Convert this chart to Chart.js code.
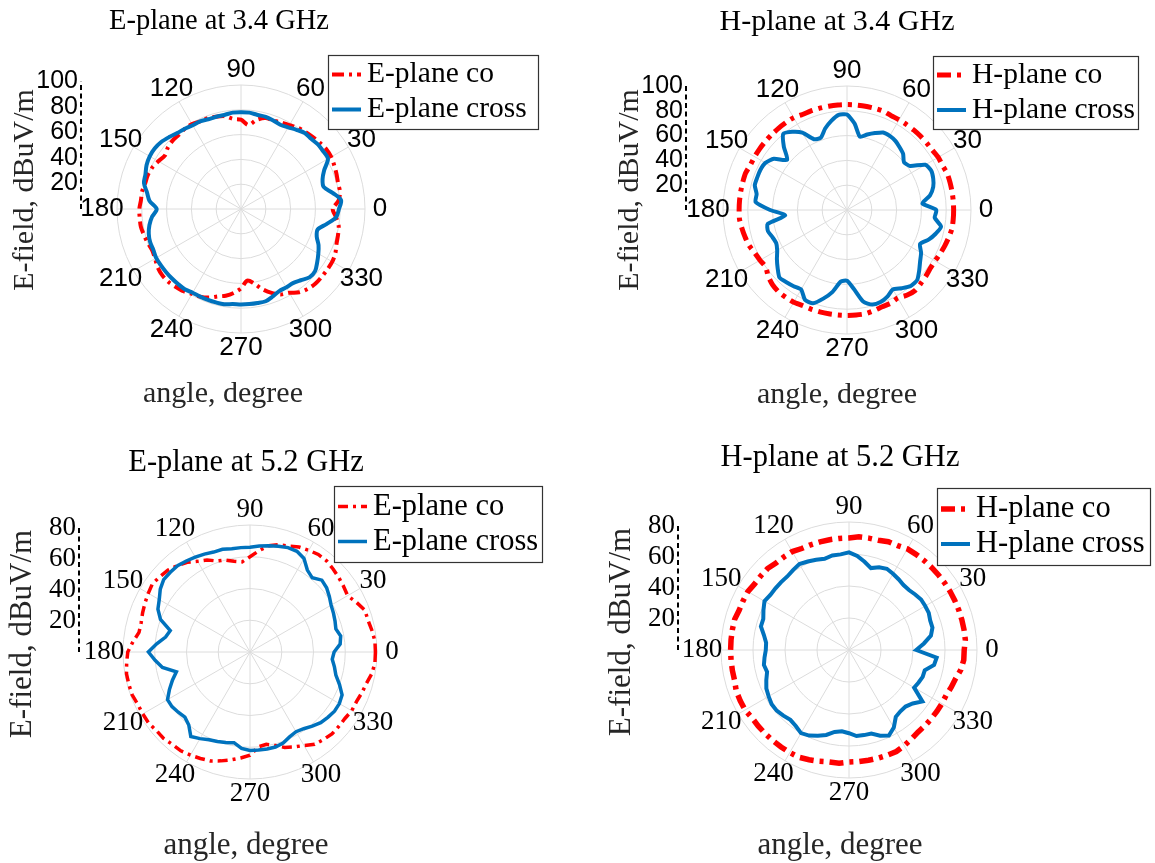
<!DOCTYPE html>
<html>
<head>
<meta charset="utf-8">
<title>E-plane / H-plane patterns</title>
<script src="https://cdn.jsdelivr.net/npm/chart.js@4.4.1/dist/chart.umd.min.js"></script>
<style>
  html, body { margin: 0; padding: 0; background: #fff; }
  #page { position: relative; width: 1155px; height: 863px; overflow: hidden; }
  #page canvas { position: absolute; }
</style>
</head>
<body>
<div id="page">
  <canvas id="p1" width="577" height="431" style="left:0;top:0"></canvas>
  <canvas id="p2" width="578" height="431" style="left:577px;top:0"></canvas>
  <canvas id="p3" width="577" height="432" style="left:0;top:431px"></canvas>
  <canvas id="p4" width="578" height="432" style="left:577px;top:431px"></canvas>
</div>
<script>
// angle categories in degrees (counter-clockwise from the right)
const angles = [
  0, 5, 10, 15, 20, 25, 30, 35, 40, 45, 50, 55,
  60, 65, 70, 75, 80, 85, 90, 95, 100, 105, 110, 115,
  120, 125, 130, 135, 140, 145, 150, 155, 160, 165, 170, 175,
  180, 185, 190, 195, 200, 205, 210, 215, 220, 225, 230, 235,
  240, 245, 250, 255, 260, 265, 270, 275, 280, 285, 290, 295,
  300, 305, 310, 315, 320, 325, 330, 335, 340, 345, 350, 355
];
const angleTicks = [0, 30, 60, 90, 120, 150, 180, 210, 240, 270, 300, 330];
const rTicks100 = [20, 40, 60, 80, 100];
const rTicks80 = [20, 40, 60, 80];

// E-field, dBuV/m  -- 3.4 GHz
const eCo34 = [
  74, 79, 81, 81, 82, 83, 84, 84, 83, 82, 81, 80,
  78, 77, 76, 76, 73, 68, 72, 73, 76, 77, 78, 78,
  79, 79, 78, 78, 77, 75, 77, 79, 80, 80, 81, 81,
  82, 82, 82, 81, 80, 79, 80, 82, 83, 83, 82, 81,
  79, 78, 76, 73, 71, 68, 64, 58, 61, 67, 72, 76,
  78, 82, 84, 85, 85, 85, 85, 84, 82, 81, 80, 77
];
const eCross34 = [
  79, 81, 75, 69, 70, 74, 81, 81, 81, 80, 80, 78,
  76, 75, 76, 77, 77, 78, 78, 78, 77, 77, 77, 78,
  78, 79, 80, 82, 84, 85, 85, 84, 82, 81, 77, 74,
  68, 72, 75, 77, 78, 78, 79, 79, 79, 79, 79, 79,
  78, 78, 78, 78, 78, 77, 77, 77, 77, 77, 75, 73,
  73, 73, 75, 78, 78, 75, 72, 69, 65, 64, 70, 77
];
const hCo34 = [
  86, 86, 86, 86, 86, 85, 85, 84, 84, 84, 84, 84,
  84, 84, 85, 85, 85, 85, 85, 85, 85, 85, 85, 85,
  86, 86, 86, 86, 86, 86, 86, 86, 87, 87, 87, 87,
  87, 87, 86, 85, 84, 82, 81, 80, 83, 85, 86, 86,
  86, 85, 85, 85, 85, 85, 85, 85, 85, 84, 83, 83,
  82, 84, 85, 84, 83, 82, 82, 83, 84, 85, 86, 86
];
const hCross34 = [
  72, 61, 68, 72, 74, 75, 73, 62, 60, 64, 66, 68,
  69, 69, 66, 63, 60, 70, 77, 77, 73, 68, 62, 63,
  72, 77, 80, 72, 63, 72, 76, 77, 77, 77, 74, 74,
  62, 50, 65, 66, 64, 63, 65, 69, 73, 77, 76, 75,
  74, 80, 80, 74, 67, 58, 57, 64, 75, 79, 79, 77,
  74, 77, 80, 80, 76, 72, 69, 65, 70, 74, 77, 71
];

// E-field, dBuV/m  -- 5.2 GHz
const eCo52 = [
  79, 79, 78, 77, 77, 74, 71, 72, 73, 74, 75, 75,
  74, 73, 71, 70, 68, 64, 60, 57, 58, 60, 61, 64,
  66, 69, 71, 73, 74, 75, 74, 73, 72, 71, 71, 74,
  77, 78, 79, 79, 79, 78, 78, 78, 77, 77, 76, 76,
  75, 74, 73, 71, 69, 67, 65, 60, 59, 61, 64, 66,
  68, 71, 72, 73, 73, 73, 74, 74, 75, 76, 78, 79
];
const eCross52 = [
  53, 57, 58, 56, 57, 58, 59, 61, 63, 64, 61, 63,
  68, 70, 70, 69, 68, 67, 66, 66, 66, 67, 67, 68,
  69, 70, 71, 71, 71, 69, 66, 64, 60, 52, 54, 59,
  64, 60, 56, 48, 52, 56, 60, 60, 59, 58, 60, 65,
  63, 61, 60, 59, 58, 61, 62, 62, 62, 62, 61, 59,
  58, 59, 61, 63, 64, 65, 65, 64, 60, 56, 54, 52
];
const hCo52 = [
  72, 73, 73, 73, 73, 73, 73, 73, 73, 73, 73, 73,
  73, 72, 72, 71, 71, 71, 70, 70, 70, 70, 70, 70,
  71, 71, 71, 72, 72, 72, 73, 73, 73, 74, 74, 74,
  74, 74, 74, 74, 75, 75, 75, 74, 74, 74, 74, 74,
  74, 74, 73, 72, 71, 71, 70, 70, 70, 70, 70, 70,
  69, 68, 67, 67, 67, 67, 67, 67, 68, 69, 71, 72
];
const hCross52 = [
  42, 47, 52, 54, 54, 55, 55, 55, 54, 53, 53, 54,
  55, 56, 55, 53, 56, 59, 61, 60, 60, 59, 60, 61,
  62, 61, 60, 60, 60, 60, 61, 59, 57, 57, 54, 52,
  52, 53, 54, 53, 55, 57, 58, 59, 59, 58, 57, 58,
  60, 59, 57, 55, 52, 51, 52, 54, 54, 54, 57, 59,
  56, 51, 50, 50, 52, 56, 47, 48, 49, 49, 54, 55
];

const SERIF = '"Liberation Serif", "Times New Roman", serif';
const SANS = '"Liberation Sans", Arial, sans-serif';
const RED = '#ff0000';
const BLUE = '#0072bd';

// radar runs clockwise from startAngle, so flip the order to get a normal polar plot
function ccw(arr) {
  return arr.map((v, i) => arr[(arr.length - i) % arr.length]);
}

// matlab-like decorations: theta labels, dashed r axis, titles and boxed legend
const polarDecor = {
  id: 'polarDecor',
  afterDraw(chart, args, o) {
    const r = chart.scales.r;
    const ctx = chart.ctx;
    ctx.save();

    ctx.fillStyle = '#000';
    ctx.font = o.angleFont;
    ctx.textAlign = 'center';
    ctx.textBaseline = 'middle';
    chart.data.labels.forEach((a, i) => {
      if (!angleTicks.includes(a)) return;
      const p = r.getPointPosition(i, r.drawingArea + 15);
      const shift = p.x < r.xCenter - 1 ? o.leftShift : 0;
      ctx.fillText(String(a), p.x - shift, p.y);
    });

    // r axis drawn as a dashed line left of the plot
    const yOf = v => r.yCenter - r.getDistanceFromCenterForValue(v) * o.axisK;
    ctx.strokeStyle = '#000';
    ctx.lineWidth = 2;
    ctx.setLineDash([5, 3.5]);
    ctx.beginPath();
    ctx.moveTo(o.axisX, r.yCenter);
    ctx.lineTo(o.axisX, yOf(r.max));
    ctx.stroke();
    ctx.setLineDash([]);
    ctx.font = o.tickFont;
    ctx.textAlign = 'right';
    o.ticks.forEach(v => ctx.fillText(String(v), o.axisX - 3, yOf(v)));

    // axis titles
    ctx.fillStyle = '#262626';
    ctx.font = o.labelSize + 'px ' + SERIF;
    ctx.textAlign = 'center';
    ctx.fillText('angle, degree', o.xLabel[0], o.xLabel[1]);
    ctx.save();
    ctx.translate(o.axisX - 56, o.yLabelY);
    ctx.rotate(-Math.PI / 2);
    ctx.fillText('E-field, dBuV/m', 0, 0);
    ctx.restore();

    ctx.fillStyle = '#000';
    ctx.font = o.titleSize + 'px ' + SERIF;
    ctx.fillText(o.title, o.titlePos[0], o.titlePos[1]);

    // legend
    const [lx, ly, lw, lh] = o.legend;
    ctx.fillStyle = '#fff';
    ctx.fillRect(lx, ly, lw, lh);
    ctx.strokeStyle = '#333';
    ctx.lineWidth = 1.2;
    ctx.strokeRect(lx + 0.5, ly + 0.5, lw, lh);
    ctx.font = o.legendSize + 'px ' + SERIF;
    ctx.textAlign = 'left';
    chart.data.datasets.forEach((ds, i) => {
      const y = ly + lh / 2 + (i === 0 ? -17.5 : 17.5);
      ctx.strokeStyle = ds.borderColor;
      ctx.lineWidth = ds.borderWidth;
      ctx.setLineDash(ds.borderDash || []);
      ctx.beginPath();
      ctx.moveTo(lx + 4, y);
      ctx.lineTo(lx + 33, y);
      ctx.stroke();
      ctx.setLineDash([]);
      ctx.fillStyle = '#000';
      ctx.fillText(ds.label, lx + 39, y);
    });
    ctx.restore();
  }
};

function makePolar(id, s) {
  const canvas = document.getElementById(id);
  const W = canvas.width, H = canvas.height;
  new Chart(canvas, {
    type: 'radar',
    data: {
      labels: ccw(angles),
      datasets: [
        {
          label: s.names[0],
          data: ccw(s.co),
          borderColor: RED,
          borderWidth: s.redWidth,
          borderDash: s.redDash,
          borderCapStyle: 'butt',
          fill: false,
          pointRadius: 0,
          tension: s.tension,
          order: 2
        },
        {
          label: s.names[1],
          data: ccw(s.cross),
          borderColor: BLUE,
          borderWidth: s.blueWidth,
          fill: false,
          pointRadius: 0,
          tension: s.tension,
          order: 1
        }
      ]
    },
    options: {
      responsive: false,
      animation: false,
      events: [],
      layout: {
        padding: {
          left: s.cx - s.R,
          top: s.cy - s.R,
          right: W - s.cx - s.R,
          bottom: H - s.cy - s.R
        }
      },
      scales: {
        r: {
          min: 0,
          max: s.ticks[s.ticks.length - 1],
          startAngle: 90,
          ticks: { display: false, stepSize: 20 },
          pointLabels: { display: false },
          grid: { circular: true, color: '#dcdcdc', lineWidth: 1 },
          angleLines: {
            color: '#dcdcdc',
            lineWidth: ctx => (angleTicks.includes(ctx.label) ? 1 : 0)
          }
        }
      },
      plugins: {
        legend: { display: false },
        tooltip: { enabled: false },
        polarDecor: {
          title: s.title,
          titlePos: s.titlePos,
          titleSize: s.titleSize,
          legendSize: s.legendSize,
          labelSize: s.labelSize,
          xLabel: s.xLabel,
          yLabelY: s.yLabelY,
          axisX: s.axisX,
          axisK: s.axisK,
          ticks: s.ticks,
          legend: s.legend,
          angleFont: s.angleFont,
          tickFont: s.tickFont,
          leftShift: s.leftShift
        }
      }
    },
    plugins: [polarDecor]
  });
}

makePolar('p1', {
  title: 'E-plane at 3.4 GHz', names: ['E-plane co', 'E-plane cross'],
  co: eCo34, cross: eCross34, ticks: rTicks100,
  cx: 241, cy: 209, R: 124,
  titlePos: [219, 22], xLabel: [223, 394], yLabelY: 190,
  titleSize: 28.5, legendSize: 29.5, labelSize: 30,
  axisX: 81, axisK: 1.03, legend: [328, 55, 210, 74],
  angleFont: '26px ' + SANS, tickFont: '25px ' + SANS, leftShift: 0,
  redWidth: 4, redDash: [12, 5, 3, 5], blueWidth: 4, tension: 0.3
});
makePolar('p2', {
  title: 'H-plane at 3.4 GHz', names: ['H-plane co', 'H-plane cross'],
  co: hCo34, cross: hCross34, ticks: rTicks100,
  cx: 270, cy: 210, R: 124,
  titlePos: [260, 22], xLabel: [260, 395], yLabelY: 190,
  titleSize: 30, legendSize: 29.5, labelSize: 30,
  axisX: 109, axisK: 1.0, legend: [356, 56, 205, 73],
  angleFont: '26px ' + SANS, tickFont: '25px ' + SANS, leftShift: 0,
  redWidth: 5, redDash: [14, 6, 4, 6], blueWidth: 4, tension: 0.2
});
makePolar('p3', {
  title: 'E-plane at 5.2 GHz', names: ['E-plane co', 'E-plane cross'],
  co: eCo52, cross: eCross52, ticks: rTicks80,
  cx: 250, cy: 221, R: 127,
  titlePos: [246, 32], xLabel: [246, 415], yLabelY: 203,
  titleSize: 30.5, legendSize: 30.5, labelSize: 31,
  axisX: 79, axisK: 0.976, legend: [334, 55, 208, 76],
  angleFont: '27px ' + SERIF, tickFont: '27px ' + SERIF, leftShift: 4,
  redWidth: 3.5, redDash: [10, 5, 3, 5], blueWidth: 3.5, tension: 0
});
makePolar('p4', {
  title: 'H-plane at 5.2 GHz', names: ['H-plane co', 'H-plane cross'],
  co: hCo52, cross: hCross52, ticks: rTicks80,
  cx: 272, cy: 219, R: 128,
  titlePos: [263, 27], xLabel: [263, 415], yLabelY: 201,
  titleSize: 30.5, legendSize: 30.5, labelSize: 31,
  axisX: 101, axisK: 0.97, legend: [360, 57, 213, 77],
  angleFont: '27px ' + SERIF, tickFont: '27px ' + SERIF, leftShift: 4,
  redWidth: 5.5, redDash: [14, 6, 4, 6], blueWidth: 4, tension: 0
});
</script>
</body>
</html>
